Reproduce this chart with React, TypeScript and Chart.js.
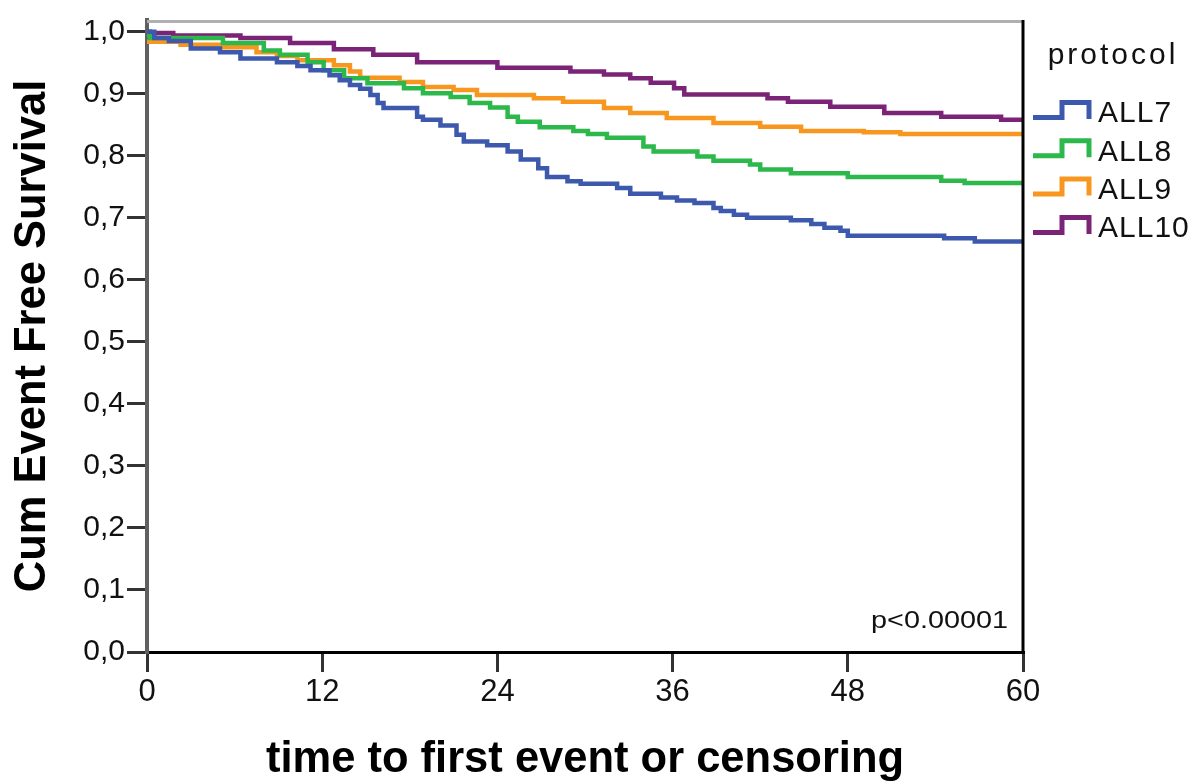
import React, { useEffect, useRef } from "react";
import { Chart, registerables } from "chart.js";

Chart.register(...registerables);

// Kaplan-Meier step points: month at which the step starts, survival from that month on
const all7Time = [0, 0.5, 1.5, 3, 5, 6.4, 8.9, 10.3, 11.2, 12.5, 13.2, 13.9, 14.6, 15.3, 15.8, 16.2, 18.5, 18.9, 20.1, 21.2, 21.7, 23.3, 24.7, 25.6, 26.8, 27.4, 28.8, 29.7, 32.2, 33.1, 35.2, 36.3, 37.5, 38.8, 39.3, 40.2, 41.1, 44.1, 45.5, 46.4, 47.5, 48.0, 54.6, 56.7, 60];
const all7Surv = [1.0, 0.99, 0.985, 0.973, 0.967, 0.957, 0.951, 0.945, 0.938, 0.93, 0.922, 0.914, 0.908, 0.898, 0.885, 0.877, 0.863, 0.858, 0.849, 0.834, 0.823, 0.817, 0.807, 0.794, 0.78, 0.766, 0.759, 0.755, 0.748, 0.739, 0.733, 0.728, 0.724, 0.716, 0.711, 0.705, 0.7, 0.696, 0.69, 0.684, 0.679, 0.671, 0.667, 0.662, 0.662];

const all8Time = [0, 0.2, 5.2, 8.0, 9.1, 11.0, 12.1, 13.5, 15.1, 17.6, 18.9, 20.8, 22.1, 23.5, 24.7, 25.4, 26.9, 29.2, 30.2, 31.5, 34.0, 34.7, 37.7, 38.8, 41.3, 42.0, 44.1, 48.0, 54.4, 56.0, 60];
const all8Surv = [0.995, 0.99, 0.982, 0.97, 0.963, 0.951, 0.938, 0.925, 0.917, 0.909, 0.901, 0.895, 0.885, 0.878, 0.863, 0.855, 0.846, 0.84, 0.835, 0.829, 0.815, 0.807, 0.799, 0.792, 0.786, 0.778, 0.772, 0.766, 0.76, 0.756, 0.756];

const all9Time = [0, 2.3, 5.2, 7.5, 8.9, 10.3, 12.8, 13.9, 14.6, 17.3, 18.9, 21.0, 22.6, 26.5, 28.5, 31.3, 33.1, 35.6, 38.8, 42.0, 44.8, 49.1, 51.6, 60];
const all9Surv = [0.984, 0.979, 0.975, 0.967, 0.961, 0.954, 0.946, 0.936, 0.926, 0.919, 0.911, 0.906, 0.898, 0.893, 0.887, 0.877, 0.869, 0.861, 0.853, 0.847, 0.84, 0.838, 0.835, 0.833];

const all10Time = [0, 0.2, 1.8, 6.4, 9.8, 12.8, 15.5, 18.5, 24.0, 29.0, 31.3, 33.1, 34.5, 36.1, 36.8, 42.5, 43.9, 46.8, 50.5, 54.4, 58.5, 60];
const all10Surv = [1.0, 0.998, 0.994, 0.99, 0.982, 0.972, 0.963, 0.951, 0.942, 0.936, 0.931, 0.925, 0.918, 0.909, 0.899, 0.893, 0.887, 0.879, 0.869, 0.863, 0.858, 0.858];

const seriesLabels = ["ALL7", "ALL8", "ALL9", "ALL10"];
const seriesColors = ["#3D59AD", "#2DB84B", "#F7971F", "#7B2377"];
const xTickValues = [0, 12, 24, 36, 48, 60];
const yTickValues = [0, 0.1, 0.2, 0.3, 0.4, 0.5, 0.6, 0.7, 0.8, 0.9, 1.0];
const legendTitle = "protocol";
const pValueText = "p<0.00001";
const xTitle = "time to first event or censoring";
const yTitle = "Cum Event Free Survival";

const FONT = "'Liberation Sans', Arial, sans-serif";

const toPoints = (t: number[], s: number[]) => t.map((x, i) => ({ x, y: s[i] }));

const framePlugin = {
  id: "frame",
  afterDatasetsDraw(chart: any) {
    const { ctx, chartArea } = chart;
    ctx.save();
    ctx.strokeStyle = "#b0b0b0";
    ctx.lineWidth = 3;
    ctx.beginPath();
    ctx.moveTo(chartArea.left, chartArea.top + 1.5);
    ctx.lineTo(chartArea.right, chartArea.top + 1.5);
    ctx.stroke();
    ctx.strokeStyle = "#000";
    ctx.lineWidth = 3;
    ctx.beginPath();
    ctx.moveTo(chartArea.right, chartArea.top);
    ctx.lineTo(chartArea.right, chartArea.bottom);
    ctx.stroke();
    // p-value annotation
    ctx.fillStyle = "#111";
    ctx.font = `24px ${FONT}`;
    ctx.textAlign = "right";
    ctx.textBaseline = "alphabetic";
    ctx.translate(chartArea.right - 15, chartArea.bottom - 24);
    ctx.scale(1.2, 1);
    ctx.fillText(pValueText, 0, 0);
    ctx.restore();
  },
};

const legendPlugin = {
  id: "stepLegend",
  afterDraw(chart: any) {
    const { ctx, chartArea } = chart;
    const x0 = chartArea.right + 10;
    ctx.save();
    ctx.fillStyle = "#111";
    ctx.font = `30px ${FONT}`;
    ctx.textAlign = "center";
    ctx.textBaseline = "middle";
    (ctx as any).letterSpacing = "3px";
    ctx.fillText(legendTitle, x0 + 80, 56);
    (ctx as any).letterSpacing = "1px";
    chart.data.datasets.forEach((ds: any, i: number) => {
      const y = 113 + i * 38.3;
      ctx.strokeStyle = ds.borderColor;
      ctx.lineWidth = 5;
      ctx.lineJoin = "miter";
      ctx.beginPath();
      ctx.moveTo(x0, y + 4.5);
      ctx.lineTo(x0 + 29, y + 4.5);
      ctx.lineTo(x0 + 29, y - 10.5);
      ctx.lineTo(x0 + 56, y - 10.5);
      ctx.lineTo(x0 + 56, y + 6);
      ctx.stroke();
      ctx.fillStyle = "#111";
      ctx.textAlign = "left";
      ctx.fillText(ds.label, x0 + 65, y + 1);
    });
    ctx.restore();
  },
};

export default function App() {
  const canvasRef = useRef<HTMLCanvasElement | null>(null);

  useEffect(() => {
    document.body.style.margin = "0";
    const canvas = canvasRef.current;
    if (!canvas) return;
    const series = [
      [all7Time, all7Surv],
      [all8Time, all8Surv],
      [all9Time, all9Surv],
      [all10Time, all10Surv],
    ];
    const chart = new Chart(canvas, {
      type: "line",
      data: {
        datasets: series.map(([t, s], i) => ({
          label: seriesLabels[i],
          data: toPoints(t as number[], s as number[]),
          borderColor: seriesColors[i],
          backgroundColor: seriesColors[i],
          borderWidth: 4.5,
          pointRadius: 0,
          stepped: "before" as const,
          fill: false,
        })),
      },
      options: {
        responsive: false,
        animation: false,
        devicePixelRatio: 1,
        layout: { padding: { top: 15, right: 167, bottom: 0, left: 0 } },
        plugins: { legend: { display: false }, tooltip: { enabled: false } },
        scales: {
          x: {
            type: "linear",
            min: 0,
            max: 60,
            afterBuildTicks: (scale: any) => {
              scale.ticks = xTickValues.map((v) => ({ value: v }));
            },
            afterFit: (scale: any) => {
              scale.height = 131;
            },
            grid: { drawOnChartArea: false, drawTicks: true, tickLength: 20, color: "#333", lineWidth: 3 },
            border: { display: true, color: "#000", width: 3 },
            ticks: {
              color: "#111",
              font: { family: FONT, size: 31 },
              padding: 2,
              maxRotation: 0,
              autoSkip: false,
            },
            title: {
              display: true,
              text: xTitle,
              color: "#000",
              font: { family: FONT, size: 43.5, weight: "bold", lineHeight: 1 },
              padding: { top: 0, bottom: 1 },
            },
          },
          y: {
            type: "linear",
            min: 0,
            max: 1.019,
            afterBuildTicks: (scale: any) => {
              scale.ticks = yTickValues.map((v) => ({ value: v }));
            },
            afterFit: (scale: any) => {
              scale.width = 147;
            },
            grid: { drawOnChartArea: false, drawTicks: true, tickLength: 20, color: "#333", lineWidth: 3 },
            border: { display: true, color: "#606060", width: 4 },
            ticks: {
              color: "#111",
              font: { family: FONT, size: 30 },
              padding: 2,
              autoSkip: false,
              callback: (v: any) => Number(v).toFixed(1).replace(".", ","),
            },
            title: {
              display: true,
              text: yTitle,
              color: "#000",
              font: { family: FONT, size: 43.5, weight: "bold", lineHeight: 1 },
              padding: { top: 11, bottom: 0 },
            },
          },
        },
      },
      plugins: [framePlugin, legendPlugin],
    } as any);
    return () => chart.destroy();
  }, []);

  return (
    <div style={{ width: 1190, height: 783, background: "#fff" }}>
      <canvas ref={canvasRef} width={1190} height={783} style={{ display: "block" }} />
    </div>
  );
}
